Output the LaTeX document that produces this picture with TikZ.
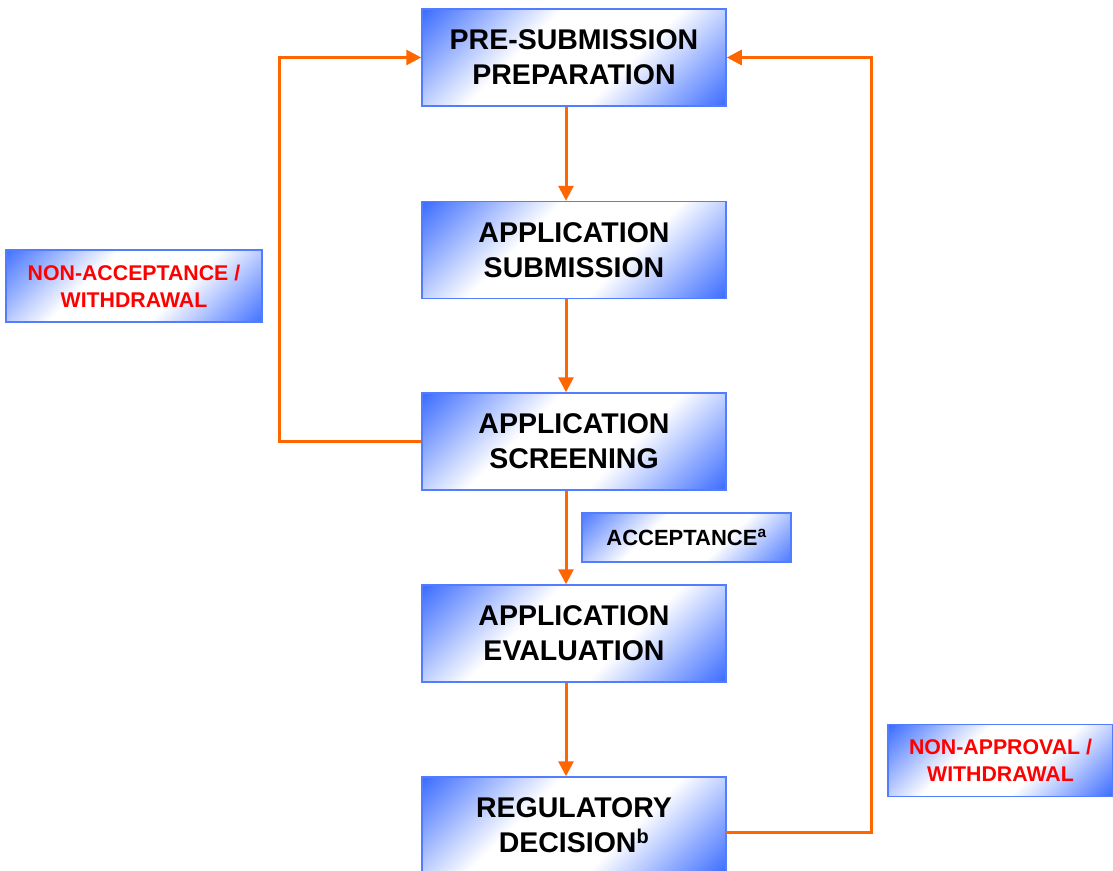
\documentclass[tikz,border=0pt]{standalone}
\usepackage{fontspec}
\setmainfont{Liberation Sans}
\usetikzlibrary{arrows.meta,calc}
\definecolor{boxblue}{HTML}{3366FF}
\definecolor{linkorange}{HTML}{FF6600}
\definecolor{notered}{HTML}{FF0000}
\pgfdeclareverticalshading{stageshade}{100bp}{color(0bp)=(boxblue);
  color(26bp)=(boxblue); color(43bp)=(white); color(57bp)=(white);
  color(74bp)=(boxblue); color(100bp)=(boxblue)}
\tikzset{
  stage/.style={draw=boxblue!85, line width=1.5pt,
                path picture={
                  \shade[shading=stageshade, shading angle=45]
                    let \p1=(path picture bounding box.south west),
                        \p2=(path picture bounding box.north east),
                        \n1={(\x2-\x1)/2} in
                    ([shift={(-\n1,-\n1)}]path picture bounding box.center)
                    rectangle ([shift={(\n1,\n1)}]path picture bounding box.center);
                },
                minimum width=304pt, minimum height=97pt, inner sep=0pt,
                align=center, font=\fontsize{28.5}{35}\selectfont\bfseries},
  note/.style={stage, minimum height=72pt, text=notered,
               font=\fontsize{21.3}{27}\selectfont\bfseries},
  link/.style={draw=linkorange, line width=3pt,
               -{Triangle[length=15pt,width=15pt]}},
}
\def\ax{566}% x of the down arrows

\begin{document}
\begin{tikzpicture}[x=1pt,y=-1pt]
  \useasboundingbox (0,0) rectangle (1113,870);
  % stages
  \node[stage] (pre) at (574,57.5) {PRE-SUBMISSION\\PREPARATION};
  \node[stage] (sub) at (574,250) {APPLICATION\\SUBMISSION};
  \node[stage] (scr) at (574,441.5) {APPLICATION\\SCREENING};
  \node[stage] (eva) at (574,633.5) {APPLICATION\\EVALUATION};
  \node[stage] (dec) at (574,825.5) {REGULATORY\\DECISION\textsuperscript{b}};
  % side notes
  \node[note, minimum width=256pt] (nonacc) at (134,286) {NON-ACCEPTANCE /\\WITHDRAWAL};
  \node[note, minimum width=225pt] (nonapp) at (1000.5,760.5) {NON-APPROVAL /\\WITHDRAWAL};
  \node[stage, minimum width=209pt, minimum height=49pt,
        font=\fontsize{22}{24}\selectfont\bfseries] (acc) at (686.5,537.5) {ACCEPTANCE\textsuperscript{a}};
  % down arrows
  \coordinate (spine) at (\ax,0);
  \draw[link] (pre.south -| spine) -- (sub.north -| spine);
  \draw[link] (sub.south -| spine) -- (scr.north -| spine);
  \draw[link] (scr.south -| spine) -- (eva.north -| spine);
  \draw[link] (eva.south -| spine) -- (dec.north -| spine);
  % loops back to the start
  \coordinate (lc) at (279,0);
  \coordinate (rc) at (871,0);
  \coordinate (decout) at (726,832.5);
  \draw[link] (scr.west) -- (scr.west -| lc) |- (pre.west);
  \draw[link] (decout) -- (decout -| rc) |- (pre.east);
\end{tikzpicture}
\end{document}
